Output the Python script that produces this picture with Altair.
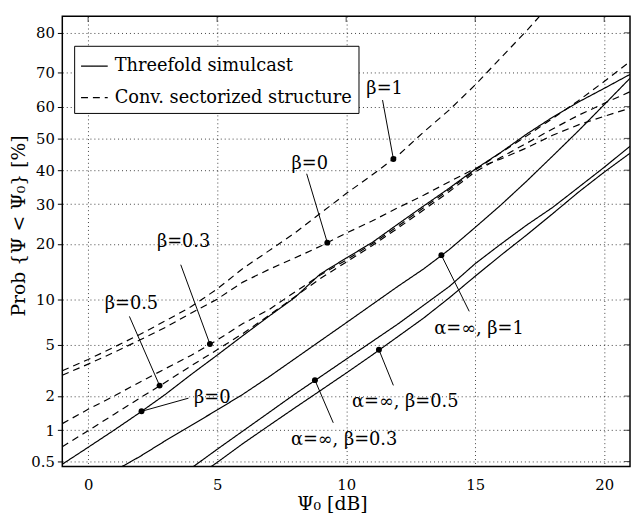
import altair as alt
import pandas as pd
from statistics import NormalDist

ND = NormalDist()

# ---------------- data (x in dB, probabilities in %) ----------------
x_range = [-1, 21]
p_range = [0.447, 83.5]
x_ticks = [0, 5, 10, 15, 20]
p_ticks = [0.5, 1, 2, 5, 10, 20, 30, 40, 50, 60, 70, 80]

kinds = ["Threefold simulcast", "Conv. sectorized structure"]

x_full = list(range(-1, 22))

# Threefold simulcast, beta = 0
s0_p = [0.47, 0.69, 1.0, 1.44, 2.07, 3.0, 4.2, 5.8, 7.8, 10.2, 14.0, 17.0,
        20.3, 24.7, 29.5, 34.6, 40.3, 45.6, 51.4, 56.7, 61.4, 65.5, 69.5]

# Threefold simulcast, alpha = inf, beta = 1
sa1_x = list(range(0, 22))
sa1_p = [0.28, 0.4, 0.56, 0.80, 1.11, 1.52, 2.07, 2.86, 3.94, 5.33, 7.08,
         9.26, 11.9, 14.9, 18.8, 23.9, 29.8, 36.7, 44.4, 52.4, 60.6, 68.4]

# Threefold simulcast, alpha = inf, beta = 0.3 / 0.5
sa_x = list(range(4, 22))
sa03_p = [0.43, 0.66, 0.985, 1.44, 2.07, 2.87, 3.92, 5.26, 6.94, 9.17, 11.9,
          15.9, 20.0, 24.5, 29.1, 34.8, 40.9, 47.5]
sa05_p = [0.32, 0.49, 0.75, 1.1, 1.58, 2.22, 3.07, 4.2, 5.7, 7.6, 10.2,
          13.6, 17.6, 22.1, 27.4, 33.4, 39.4, 45.3]

# Conventional sectorized structure
d1_x = [-1, 0, 1, 2, 3, 4, 5, 6, 7, 8, 9, 10, 11, 12, 13, 14, 15, 16, 17, 17.5]
d1_p = [3.2, 3.9, 4.8, 5.9, 7.3, 9.0, 11.5, 15.0, 18.5, 22.5, 27.5, 33.0,
        38.5, 44.5, 52.0, 59.0, 66.5, 74.0, 80.5, 83.5]
d0_p = [2.95, 3.6, 4.4, 5.4, 6.6, 8.2, 10.0, 12.6, 14.8, 17.0, 19.5, 22.5,
        25.5, 29.0, 32.5, 36.5, 40.5, 43.5, 47.0, 51.0, 54.3, 57.0, 59.5]
d03_p = [1.15, 1.54, 2.0, 2.6, 3.33, 4.2, 5.4, 7.0, 8.6, 11.0, 13.8, 16.6,
         20.0, 24.2, 29.0, 34.2, 40.0, 45.5, 50.8, 56.3, 61.8, 67.5, 73.0]
d05_p = [0.7, 0.99, 1.39, 1.92, 2.6, 3.5, 4.6, 6.0, 7.9, 10.3, 13.2, 16.2,
         19.6, 23.7, 28.4, 33.6, 39.5, 44.0, 48.5, 53.0, 57.3, 61.0, 64.5]

# Annotations
lab_text = ["β=1", "β=0", "β=0.3", "β=0.5", "β=0",
            "α=∞, β=1", "α=∞, β=0.5", "α=∞, β=0.3"]
lab_x = [11.49, 8.59, 3.70, 1.68, 4.81, 15.15, 12.29, 9.92]
lab_p = [65.3, 41.9, 20.4, 9.3, 1.92, 6.4, 1.78, 0.815]
ptr_x = [11.41, 8.47, 3.59, 1.60, 3.89, 14.77, 11.83, 9.50]
ptr_p = [62.0, 38.9, 15.7, 7.8, 1.92, 8.4, 2.45, 1.17]
dot_x = [11.83, 9.27, 4.72, 2.77, 2.07, 13.69, 11.27, 8.79]
dot_p = [43.5, 20.3, 5.06, 2.44, 1.48, 17.6, 4.6, 2.7]

# ---------------- tables ----------------
series = [
    ("s0", kinds[0], x_full, s0_p),
    ("sa1", kinds[0], sa1_x, sa1_p),
    ("sa03", kinds[0], sa_x, sa03_p),
    ("sa05", kinds[0], sa_x, sa05_p),
    ("d1", kinds[1], d1_x, d1_p),
    ("d0", kinds[1], x_full, d0_p),
    ("d03", kinds[1], x_full, d03_p),
    ("d05", kinds[1], x_full, d05_p),
]
rows = []
for name, kind, xs, ps in series:
    for xv, pv in zip(xs, ps):
        rows.append({"curve": name, "kind": kind, "x": xv, "p": pv})
curves = pd.DataFrame(rows)

ann = pd.DataFrame({"label": lab_text, "lx": lab_x, "lp": lab_p,
                    "px": ptr_x, "pp": ptr_p, "dx": dot_x, "dp": dot_p})
yt = pd.DataFrame({"p": p_ticks})
xt = pd.DataFrame({"x": x_ticks})

z_dom = [ND.inv_cdf(p_range[0] / 100), ND.inv_cdf(p_range[1] / 100)]
z_ticks = [ND.inv_cdf(p / 100) for p in p_ticks]

FONT = "DejaVu Serif"

xscale = alt.Scale(domain=x_range, nice=False, zero=False)
yscale = alt.Scale(domain=z_dom, nice=False, zero=False)
xaxis = alt.Axis(values=x_ticks, title="Ψ₀ [dB]", ticks=False, labelPadding=11,
                 titlePadding=3, titleX=273)
yaxis = alt.Axis(values=z_ticks, title="Prob {Ψ < Ψ₀} [%]", tickSize=5,
                 tickColor="black", labelPadding=3, titlePadding=2, titleY=212,
                 labelExpr="format(cumulativeNormal(datum.value)*100, '.2~g')")

lines = alt.Chart(curves).transform_calculate(
    z="quantileNormal(datum.p/100)"
).mark_line(color="black", strokeWidth=1.2, clip=True).encode(
    x=alt.X("x:Q", scale=xscale, axis=xaxis),
    y=alt.Y("z:Q", scale=yscale, axis=yaxis),
    strokeDash=alt.StrokeDash(
        "kind:N",
        scale=alt.Scale(domain=kinds, range=[[1, 0], [7, 5]]),
        legend=alt.Legend(title=None, orient="none", legendX=12, legendY=30,
                          fillColor="white", strokeColor="black", padding=6,
                          symbolType="stroke", symbolSize=729,
                          symbolStrokeWidth=1.3, symbolStrokeColor="black",
                          labelFont=FONT, labelFontSize=18, labelColor="black",
                          labelOffset=6, rowPadding=8, labelLimit=400),
    ),
    detail="curve:N",
)

annb = alt.Chart(ann).transform_calculate(
    lz="quantileNormal(datum.lp/100)",
    pz="quantileNormal(datum.pp/100)",
    dz="quantileNormal(datum.dp/100)",
)

pointers = annb.mark_rule(color="black", strokeWidth=1).encode(
    x=alt.X("px:Q", scale=xscale, axis=xaxis),
    y=alt.Y("pz:Q", scale=yscale, axis=yaxis),
    x2="dx:Q",
    y2="dz:Q",
)
dots = annb.mark_circle(color="black", size=36, opacity=1).encode(
    x=alt.X("dx:Q", scale=xscale, axis=xaxis),
    y=alt.Y("dz:Q", scale=yscale, axis=yaxis),
)
labels = annb.mark_text(font=FONT, fontSize=18, color="black",
                        align="center", baseline="middle").encode(
    x=alt.X("lx:Q", scale=xscale, axis=xaxis),
    y=alt.Y("lz:Q", scale=yscale, axis=yaxis),
    text="label:N",
)

rticks = alt.Chart(yt).transform_calculate(
    z="quantileNormal(datum.p/100)"
).mark_tick(color="black", orient="horizontal", size=6, thickness=1).encode(
    y=alt.Y("z:Q", scale=yscale, axis=yaxis),
    x=alt.value(572),
)
tticks = alt.Chart(xt).mark_tick(color="black", orient="vertical", size=6,
                                 thickness=1).encode(
    x=alt.X("x:Q", scale=xscale, axis=xaxis),
    y=alt.value(3),
)

chart = alt.layer(lines, pointers, dots, labels, rticks, tticks).properties(
    width=575, height=456,
    autosize=alt.AutoSizeParams(type="none"),
    padding={"left": 55, "top": 5, "right": 1, "bottom": 50},
).configure(font=FONT).configure_view(
    stroke="black", strokeWidth=1.5
).configure_axis(
    grid=True, gridColor="black", gridDash=[1, 3], gridOpacity=0.75,
    gridWidth=1, domain=False,
    labelFont=FONT, labelFontSize=15, labelColor="black",
    titleFont=FONT, titleFontSize=19, titleFontWeight="normal",
    titleColor="black",
)

chart.save("out.html", embed_options={"renderer": "svg", "actions": False})
